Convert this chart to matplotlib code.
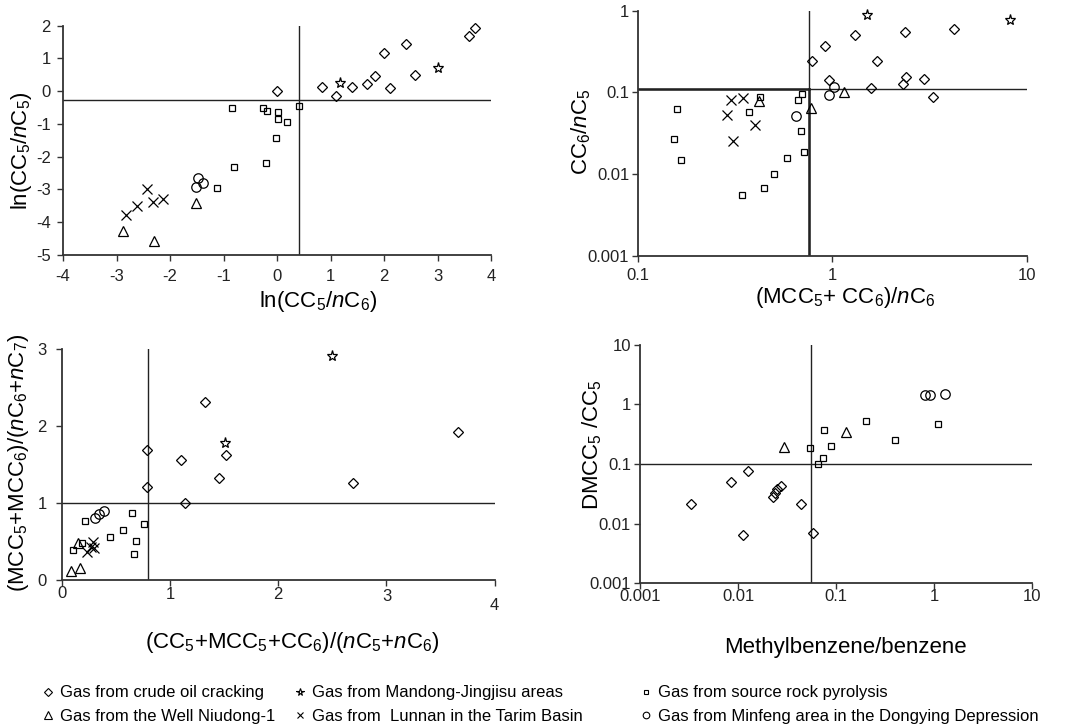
import numpy as np
import matplotlib.pyplot as plt
from matplotlib.lines import Line2D
from matplotlib.ticker import FuncFormatter, FixedLocator, NullLocator
from matplotlib.transforms import ScaledTranslation

plt.rcParams['font.family'] = ['Liberation Sans', 'DejaVu Sans']
plt.rcParams['mathtext.fontset'] = 'custom'
plt.rcParams['mathtext.rm'] = 'Liberation Sans'
plt.rcParams['mathtext.it'] = 'Liberation Sans:italic'
plt.rcParams['mathtext.bf'] = 'Liberation Sans:bold'
plt.rcParams['axes.unicode_minus'] = False

# ---- panel 1: ln(CC5/nC6) vs ln(CC5/nC5) ----
p1_oil_x = [0.0, 0.83, 1.09, 1.39, 1.68, 1.83, 2.0, 2.10, 2.40, 2.58, 3.59, 3.69]
p1_oil_y = [0.0, 0.12, -0.16, 0.14, 0.22, 0.46, 1.16, 0.10, 1.43, 0.49, 1.69, 1.93]
p1_mandong_x = [1.18, 3.01]
p1_mandong_y = [0.26, 0.70]
p1_rock_x = [-0.84, -0.26, -0.19, 0.01, 0.01, 0.19, 0.41, -0.02, -0.80, -0.21, -1.13]
p1_rock_y = [-0.52, -0.52, -0.62, -0.64, -0.85, -0.95, -0.45, -1.44, -2.30, -2.20, -2.96]
p1_minfeng_x = [-1.47, -1.39, -1.52]
p1_minfeng_y = [-2.65, -2.80, -2.93]
p1_niudong_x = [-1.51, -2.88, -2.30]
p1_niudong_y = [-3.42, -4.28, -4.58]
p1_lunnan_x = [-2.43, -2.82, -2.61, -2.32, -2.13]
p1_lunnan_y = [-2.99, -3.77, -3.49, -3.38, -3.29]
p1_cut_x, p1_cut_y = 0.4, -0.28

# ---- panel 2: (MCC5+CC6)/nC6 vs CC6/nC5 ----
p2_oil_x = [0.789, 0.917, 1.30, 2.35, 4.22, 1.70, 0.965, 1.58, 2.39, 2.31, 2.95, 3.31]
p2_oil_y = [0.240, 0.373, 0.499, 0.543, 0.602, 0.244, 0.140, 0.112, 0.154, 0.126, 0.146, 0.0885]
p2_mandong_x = [1.50, 8.17]
p2_mandong_y = [0.885, 0.769]
p2_rock_x = [0.159, 0.152, 0.165, 0.422, 0.371, 0.665, 0.700, 0.689, 0.711, 0.582, 0.497, 0.443, 0.344]
p2_rock_y = [0.0619, 0.0266, 0.0148, 0.0869, 0.0569, 0.0798, 0.0954, 0.0339, 0.0186, 0.0157, 0.0100, 0.00674, 0.00558]
p2_minfeng_x = [0.650, 0.954, 1.02]
p2_minfeng_y = [0.0508, 0.0936, 0.115]
p2_niudong_x = [0.419, 0.776, 1.14]
p2_niudong_y = [0.079, 0.0637, 0.102]
p2_lunnan_x = [0.299, 0.345, 0.288, 0.399, 0.306]
p2_lunnan_y = [0.0805, 0.0861, 0.0528, 0.0402, 0.0254]
p2_cut_x, p2_cut_y = 0.76, 0.111

# ---- panel 3: (CC5+MCC5+CC6)/(nC5+nC6) vs (MCC5+MCC6)/(nC6+nC7) ----
p3_oil_x = [0.79, 0.79, 1.10, 1.14, 1.32, 1.45, 1.52, 2.69, 3.66]
p3_oil_y = [1.69, 1.21, 1.565, 1.006, 2.31, 1.32, 1.626, 1.266, 1.93]
p3_mandong_x = [2.50, 1.51]
p3_mandong_y = [2.91, 1.78]
p3_rock_x = [0.10, 0.185, 0.215, 0.449, 0.566, 0.65, 0.665, 0.686, 0.757]
p3_rock_y = [0.39, 0.485, 0.767, 0.555, 0.65, 0.867, 0.338, 0.511, 0.724]
p3_minfeng_x = [0.308, 0.348, 0.394]
p3_minfeng_y = [0.806, 0.855, 0.90]
p3_niudong_x = [0.083, 0.172, 0.148]
p3_niudong_y = [0.117, 0.16, 0.477]
p3_lunnan_x = [0.292, 0.271, 0.237, 0.30]
p3_lunnan_y = [0.498, 0.425, 0.364, 0.42]
p3_cut_x, p3_cut_y = 0.8, 1.0

# ---- panel 4: methylbenzene/benzene vs DMCC5/CC5 ----
p4_oil_x = [0.00331, 0.00853, 0.01253, 0.01115, 0.0229, 0.0241, 0.0250, 0.0272, 0.0438, 0.0585]
p4_oil_y = [0.0211, 0.0506, 0.0753, 0.00637, 0.0276, 0.0331, 0.0376, 0.0428, 0.0216, 0.00707]
p4_rock_x = [0.0541, 0.0757, 0.0899, 0.0734, 0.0658, 0.200, 0.401, 1.09]
p4_rock_y = [0.183, 0.372, 0.203, 0.128, 0.102, 0.526, 0.252, 0.462]
p4_minfeng_x = [0.818, 0.920, 1.31]
p4_minfeng_y = [1.45, 1.45, 1.49]
p4_niudong_x = [0.0297, 0.126]
p4_niudong_y = [0.190, 0.340]
p4_cut_x, p4_cut_y = 0.056, 0.1

legend_labels = {
    'oil': 'Gas from crude oil cracking',
    'niudong': 'Gas from the Well Niudong-1',
    'mandong': 'Gas from Mandong-Jingjisu areas',
    'lunnan': 'Gas from  Lunnan in the Tarim Basin',
    'rock': 'Gas from source rock pyrolysis',
    'minfeng': 'Gas from Minfeng area in the Dongying Depression',
}

styles = {
    'oil': dict(marker='D', ms=5.2),
    'mandong': dict(marker='*', ms=8),
    'rock': dict(marker='s', ms=5),
    'minfeng': dict(marker='o', ms=6.8),
    'niudong': dict(marker='^', ms=7.5),
    'lunnan': dict(marker='x', ms=7),
}

LABEL_FS = 16
TICK_FS = 12

fig = plt.figure(figsize=(10.87, 7.25), dpi=100)

ax1 = fig.add_axes([0.058, 0.6483, 0.394, 0.3163])
ax2 = fig.add_axes([0.5872, 0.6473, 0.3573, 0.338])
ax3 = fig.add_axes([0.0568, 0.2, 0.3983, 0.3182])
ax4 = fig.add_axes([0.5888, 0.1954, 0.3606, 0.3291])


def scatter(ax, key, xs, ys):
    ax.plot(xs, ys, linestyle='none', mfc='none', mec='k', mew=0.9,
            color='k', clip_on=False, zorder=3, **styles[key])


def style_axes(ax, xpad, ypad):
    for s in ['top', 'right']:
        ax.spines[s].set_visible(False)
    for s in ['left', 'bottom']:
        ax.spines[s].set_color('#333333')
        ax.spines[s].set_linewidth(1.3)
    ax.tick_params(direction='out', length=4, width=1, colors='#333333',
                   labelsize=TICK_FS, labelcolor='#222222')
    ax.tick_params(axis='x', pad=xpad)
    ax.tick_params(axis='y', pad=ypad)
    ax.xaxis.set_minor_locator(NullLocator())
    ax.yaxis.set_minor_locator(NullLocator())


plain = FuncFormatter(lambda v, p: '{:g}'.format(v))
line_kw = dict(color='#222222', lw=1.0, zorder=1)

# panel 1
scatter(ax1, 'oil', p1_oil_x, p1_oil_y)
scatter(ax1, 'mandong', p1_mandong_x, p1_mandong_y)
scatter(ax1, 'rock', p1_rock_x, p1_rock_y)
scatter(ax1, 'minfeng', p1_minfeng_x, p1_minfeng_y)
scatter(ax1, 'niudong', p1_niudong_x, p1_niudong_y)
scatter(ax1, 'lunnan', p1_lunnan_x, p1_lunnan_y)
ax1.axvline(p1_cut_x, **line_kw)
ax1.axhline(p1_cut_y, **line_kw)
ax1.set_xlim(-4, 4)
ax1.set_ylim(-5, 2)
ax1.xaxis.set_major_locator(FixedLocator(np.arange(-4, 5)))
ax1.yaxis.set_major_locator(FixedLocator(np.arange(-5, 3)))
style_axes(ax1, 6, 4.7)
ax1.set_xlabel(r'ln(CC$_5$/$n$C$_6$)', fontsize=LABEL_FS, va='center')
ax1.xaxis.set_label_coords(0.596, -0.204)
ax1.set_ylabel(r'ln(CC$_5$/$n$C$_5$)', fontsize=LABEL_FS, va='center')
ax1.yaxis.set_label_coords(-0.097, 0.454)

# panel 2
scatter(ax2, 'oil', p2_oil_x, p2_oil_y)
scatter(ax2, 'mandong', p2_mandong_x, p2_mandong_y)
scatter(ax2, 'rock', p2_rock_x, p2_rock_y)
scatter(ax2, 'minfeng', p2_minfeng_x, p2_minfeng_y)
scatter(ax2, 'niudong', p2_niudong_x, p2_niudong_y)
scatter(ax2, 'lunnan', p2_lunnan_x, p2_lunnan_y)
ax2.set_xscale('log')
ax2.set_yscale('log')
ax2.set_xlim(0.1, 10)
ax2.set_ylim(0.001, 1)
ax2.axvline(p2_cut_x, **line_kw)
ax2.axhline(p2_cut_y, **line_kw)
ax2.plot([0.1, p2_cut_x], [p2_cut_y, p2_cut_y], color='#222222', lw=1.8, zorder=1)
ax2.plot([p2_cut_x, p2_cut_x], [0.001, p2_cut_y], color='#222222', lw=1.8, zorder=1)
ax2.xaxis.set_major_locator(FixedLocator([0.1, 1, 10]))
ax2.yaxis.set_major_locator(FixedLocator([0.001, 0.01, 0.1, 1]))
ax2.xaxis.set_major_formatter(plain)
ax2.yaxis.set_major_formatter(plain)
style_axes(ax2, 5, 2.5)
ax2.set_xlabel(r'(MCC$_5$+ CC$_6$)/$n$C$_6$', fontsize=LABEL_FS, va='center')
ax2.xaxis.set_label_coords(0.532, -0.172)
ax2.set_ylabel(r'CC$_6$/$n$C$_5$', fontsize=LABEL_FS, va='center')
ax2.yaxis.set_label_coords(-0.146, 0.505)

# panel 3
scatter(ax3, 'oil', p3_oil_x, p3_oil_y)
scatter(ax3, 'mandong', p3_mandong_x, p3_mandong_y)
scatter(ax3, 'rock', p3_rock_x, p3_rock_y)
scatter(ax3, 'minfeng', p3_minfeng_x, p3_minfeng_y)
scatter(ax3, 'niudong', p3_niudong_x, p3_niudong_y)
scatter(ax3, 'lunnan', p3_lunnan_x, p3_lunnan_y)
ax3.axvline(p3_cut_x, **line_kw)
ax3.axhline(p3_cut_y, **line_kw)
ax3.set_xlim(0, 4)
ax3.set_ylim(0, 3)
ax3.xaxis.set_major_locator(FixedLocator(np.arange(0, 5)))
ax3.yaxis.set_major_locator(FixedLocator(np.arange(0, 4)))
style_axes(ax3, 0.3, 6.8)
ax3.set_xlabel(r'(CC$_5$+MCC$_5$+CC$_6$)/($n$C$_5$+$n$C$_6$)', fontsize=LABEL_FS, va='center')
ax3.xaxis.set_label_coords(0.532, -0.273)
ax3.set_ylabel(r'(MCC$_5$+MCC$_6$)/($n$C$_6$+$n$C$_7$)', fontsize=LABEL_FS, va='center')
ax3.yaxis.set_label_coords(-0.100, 0.507)
# the x tick labels of this panel sit progressively lower in the original
p3_tick_drop_px = [0, 1, 1, 3, 12]
for tick, d in zip(ax3.xaxis.get_major_ticks(), p3_tick_drop_px):
    tick.label1.set_transform(tick.label1.get_transform()
                              + ScaledTranslation(0, -d / 100, fig.dpi_scale_trans))

# panel 4
scatter(ax4, 'oil', p4_oil_x, p4_oil_y)
scatter(ax4, 'rock', p4_rock_x, p4_rock_y)
scatter(ax4, 'minfeng', p4_minfeng_x, p4_minfeng_y)
scatter(ax4, 'niudong', p4_niudong_x, p4_niudong_y)
ax4.set_xscale('log')
ax4.set_yscale('log')
ax4.set_xlim(0.001, 10)
ax4.set_ylim(0.001, 10)
ax4.axvline(p4_cut_x, **line_kw)
ax4.axhline(p4_cut_y, **line_kw)
ax4.xaxis.set_major_locator(FixedLocator([0.001, 0.01, 0.1, 1, 10]))
ax4.yaxis.set_major_locator(FixedLocator([0.001, 0.01, 0.1, 1, 10]))
ax4.xaxis.set_major_formatter(plain)
ax4.yaxis.set_major_formatter(plain)
style_axes(ax4, 0.3, 2.5)
ax4.set_xlabel('Methylbenzene/benzene', fontsize=LABEL_FS, va='center')
ax4.xaxis.set_label_coords(0.523, -0.268)
ax4.set_ylabel(r'DMCC$_5$ /CC$_5$', fontsize=LABEL_FS, va='center')
ax4.yaxis.set_label_coords(-0.122, 0.58)

# legend: three columns of two rows
def handle(key):
    st = dict(styles[key])
    st['ms'] = st['ms'] * 0.7
    return Line2D([], [], linestyle='none', mfc='none', mec='k', mew=0.8, color='k',
                  label=legend_labels[key], **st)

columns = [(['oil', 'niudong'], 0.038), (['mandong', 'lunnan'], 0.2698), (['rock', 'minfeng'], 0.588)]
for keys, x0 in columns:
    fig.legend(handles=[handle(k) for k in keys], loc='upper left',
               bbox_to_anchor=(x0, 0.0545), frameon=False, fontsize=12,
               handlelength=0.8, handletextpad=0.32, labelspacing=0.5,
               borderpad=0, borderaxespad=0)

fig.savefig('out.png', dpi=100)
